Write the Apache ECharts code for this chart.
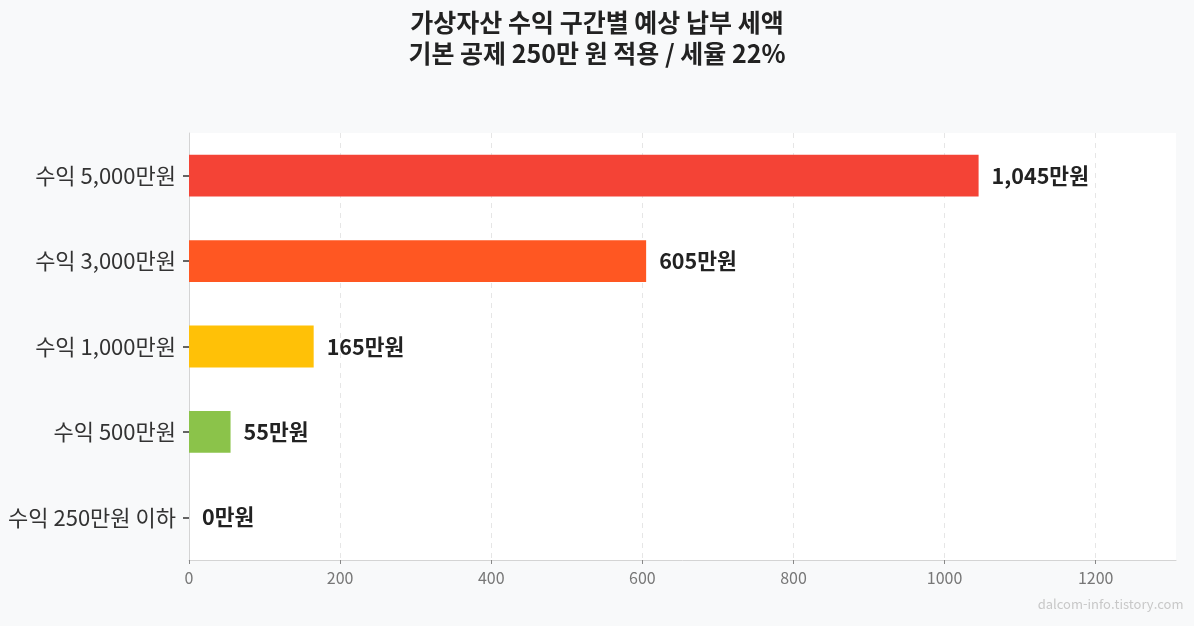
<!DOCTYPE html>
<html lang="ko">
<head>
    <meta charset="UTF-8">
    <title>가상자산 수익 구간별 예상 납부 세액</title>
    <style>
        html, body { margin: 0; padding: 0; background: #f8f9fa; }
        #main { width: 1194px; height: 626px; }
    </style>
</head>
<body>
<div id="main"></div>
<script src="https://cdn.jsdelivr.net/npm/echarts@6/dist/echarts.min.js"></script>
<script>
    // 수익 구간 (위에서 아래 순서)
    var categories = ['수익 5,000만원', '수익 3,000만원', '수익 1,000만원', '수익 500만원', '수익 250만원 이하'];
    // 예상 세액 (만원)
    var taxValues = [1045, 605, 165, 55, 0];
    var barColors = ['#f44336', '#ff5722', '#ffc107', '#8bc34a', '#9e9e9e'];
    var xTicks = [0, 200, 400, 600, 800, 1000, 1200];

    var font = '"Noto Sans CJK KR", "Noto Sans", sans-serif';

    var option = {
        backgroundColor: '#f8f9fa',
        textStyle: { fontFamily: font },
        title: {
            text: '가상자산 수익 구간별 예상 납부 세액\n기본 공제 250만 원 적용 / 세율 22%',
            left: 'center',
            top: 2,
            textStyle: {
                fontFamily: font,
                fontSize: 25,
                fontWeight: 'bold',
                color: '#222',
                lineHeight: 31
            }
        },
        graphic: [{
            type: 'text',
            right: 12,
            top: 598,
            style: {
                text: 'dalcom-info.tistory.com',
                fill: '#c8c8c8',
                font: '13px ' + font
            }
        }],
        grid: {
            left: 189,
            right: 18,
            top: 133,
            bottom: 66,
            show: true,
            backgroundColor: '#ffffff',
            borderWidth: 0
        },
        xAxis: {
            type: 'value',
            min: 0,
            max: 1306.25,
            axisLine: { show: true, lineStyle: { color: '#d4d4d4' } },
            axisTick: { show: true, length: 4, customValues: xTicks, lineStyle: { color: '#888' } },
            axisLabel: {
                customValues: xTicks,
                color: '#777',
                fontSize: 16,
                margin: 10,
                fontFamily: font,
                formatter: function (v) { return String(v); }
            },
            splitLine: { show: true, lineStyle: { type: [5, 5], color: '#e6e6e6' } }
        },
        yAxis: {
            type: 'category',
            inverse: true,
            data: categories,
            axisLine: { show: true, onZero: false, lineStyle: { color: '#d4d4d4' } },
            axisTick: {
                show: true,
                alignWithLabel: true,
                length: 6,
                lineStyle: { color: '#333', width: 1.5 }
            },
            axisLabel: { color: '#333', fontSize: 22, margin: 13, fontFamily: font }
        },
        series: [{
            type: 'bar',
            barWidth: '49%',
            data: taxValues.map(function (v, i) {
                return { value: v, itemStyle: { color: barColors[i] } };
            }),
            label: {
                show: true,
                position: 'right',
                distance: 13,
                color: '#222',
                fontSize: 21.5,
                fontWeight: 'bold',
                fontFamily: font,
                formatter: function (p) {
                    return p.value.toLocaleString('en-US') + '만원';
                }
            }
        }]
    };

    var myChart = echarts.init(document.getElementById('main'));
    myChart.setOption(option);
</script>
</body>
</html>
